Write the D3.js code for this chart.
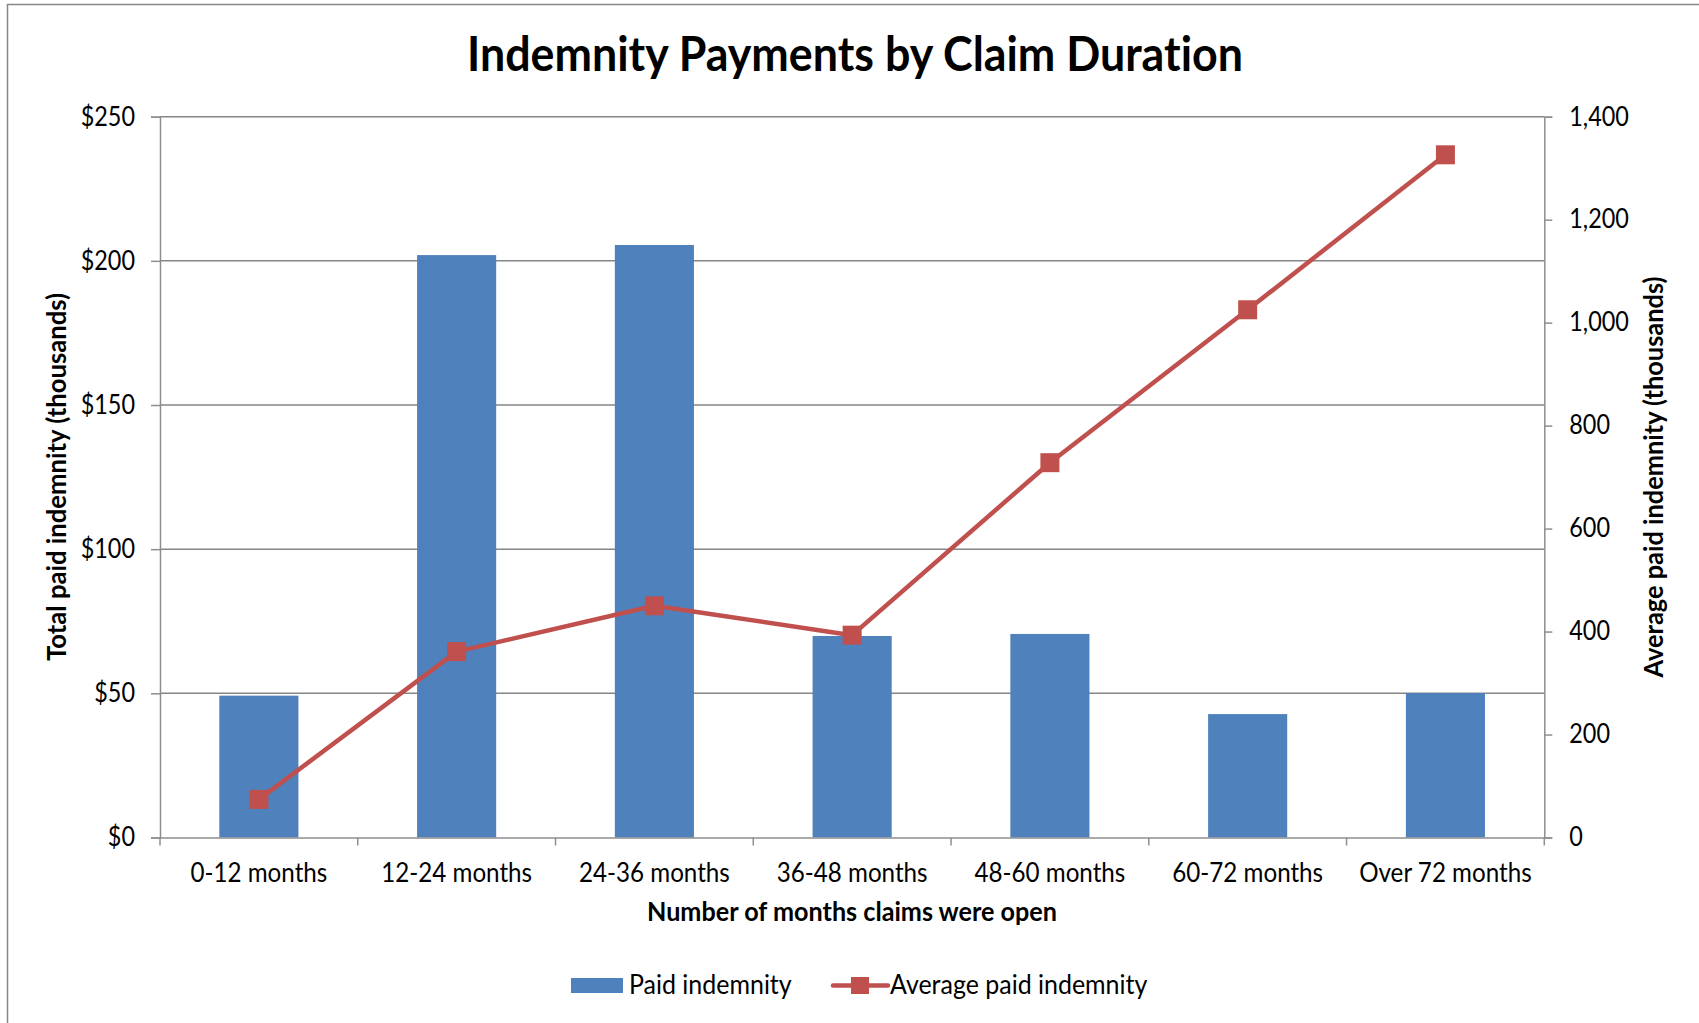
<!DOCTYPE html>
<html>
<head>
<meta charset="utf-8">
<script src="https://cdn.jsdelivr.net/npm/d3@7"></script>
<style>
  html, body { margin: 0; padding: 0; background: #fff; }
  svg { display: block; }
  text { font-family: Lato, "Open Sans", "Liberation Sans", sans-serif; fill: #000; font-variant-ligatures: none; font-feature-settings: "liga" 0, "clig" 0; }
</style>
</head>
<body>
<svg id="chart" width="1699" height="1023"></svg>
<script>
// ---- data ----
const categories = ["0-12 months", "12-24 months", "24-36 months", "36-48 months", "48-60 months", "60-72 months", "Over 72 months"];
const paidIndemnity = [49.2, 202, 205.5, 69.9, 70.6, 42.8, 50.1];          // $ thousands, left axis
const averagePaidIndemnity = [74, 361, 450, 393, 728, 1025, 1326];         // thousands, right axis
const leftTicks = [0, 50, 100, 150, 200, 250];
const rightTicks = [0, 200, 400, 600, 800, 1000, 1200, 1400];
const titleText = "Indemnity Payments by Claim Duration";
const xTitle = "Number of months claims were open";
const yLeftTitle = "Total paid indemnity (thousands)";
const yRightTitle = "Average paid indemnity (thousands)";
const seriesNames = ["Paid indemnity", "Average paid indemnity"];

// ---- layout ----
const svg = d3.select("#chart");
const plot = { left: 160, right: 1544.3, top: 116.7, bottom: 837.5 };
const barColor = "#4F81BD", lineColor = "#C0504D", gridColor = "#868686", axisColor = "#8e8e8e";

function condense(sel, k) {
  sel.each(function () {
    const w = this.getComputedTextLength();
    d3.select(this).attr("textLength", w * k).attr("lengthAdjust", "spacingAndGlyphs");
  });
}
function fitTo(sel, w) {
  sel.attr("textLength", w).attr("lengthAdjust", "spacingAndGlyphs");
}

// chart border
svg.append("rect").attr("x", 7.5).attr("y", 4.5).attr("width", 1730).attr("height", 1050)
  .attr("fill", "#fff").attr("stroke", "#868686").attr("stroke-width", 1.5);

const x = d3.scaleBand().domain(categories).range([plot.left, plot.right]).paddingInner(0.6).paddingOuter(0.3);
const xCenter = d => x(d) + x.bandwidth() / 2;
const y = d3.scaleLinear().domain([0, 250]).range([plot.bottom, plot.top]);
const y2 = d3.scaleLinear().domain([0, 1400]).range([plot.bottom, plot.top]);

// gridlines
svg.append("g").selectAll("line").data(leftTicks.filter(d => d > 0)).join("line")
  .attr("x1", plot.left).attr("x2", plot.right)
  .attr("y1", d => y(d)).attr("y2", d => y(d))
  .attr("stroke", gridColor).attr("stroke-width", 1.5);

// bars
svg.append("g").selectAll("rect").data(paidIndemnity).join("rect")
  .attr("x", (d, i) => x(categories[i]))
  .attr("width", x.bandwidth())
  .attr("y", d => y(d))
  .attr("height", d => y(0) - y(d))
  .attr("fill", barColor);

// left axis
const gl = svg.append("g").attr("transform", `translate(${plot.left},0)`)
  .call(d3.axisLeft(y).tickValues(leftTicks).tickSize(9).tickPadding(16).tickFormat(d => "$" + d));
gl.select(".domain").attr("stroke", axisColor).attr("stroke-width", 1.5);
gl.selectAll(".tick line").attr("stroke", axisColor).attr("stroke-width", 1.5);
gl.selectAll(".tick text").attr("font-size", 26).attr("font-family", null).attr("fill", "#000");
condense(gl.selectAll(".tick text"), 0.9);

// right axis
const gr = svg.append("g").attr("transform", `translate(${plot.right},0)`)
  .call(d3.axisRight(y2).tickValues(rightTicks).tickSize(8).tickPadding(17).tickFormat(d3.format(",")));
gr.select(".domain").attr("stroke", axisColor).attr("stroke-width", 1.5);
gr.selectAll(".tick line").attr("stroke", axisColor).attr("stroke-width", 1.5);
gr.selectAll(".tick text").attr("font-size", 26).attr("font-family", null).attr("fill", "#000");
condense(gr.selectAll(".tick text"), 0.9);

// bottom axis (labels) + boundary ticks
const gb = svg.append("g").attr("transform", `translate(0,${plot.bottom})`)
  .call(d3.axisBottom(x).tickSize(0).tickPadding(36));
gb.select(".domain").attr("stroke", axisColor).attr("stroke-width", 1.5);
gb.selectAll(".tick text").attr("font-size", 26).attr("font-family", null).attr("fill", "#000").attr("dy", "0.32em");
condense(gb.selectAll(".tick text"), 0.93);
const boundaries = d3.range(categories.length + 1).map(i => plot.left + i * (plot.right - plot.left) / categories.length);
svg.append("g").selectAll("line").data(boundaries).join("line")
  .attr("x1", d => d).attr("x2", d => d)
  .attr("y1", plot.bottom).attr("y2", plot.bottom + 8)
  .attr("stroke", axisColor).attr("stroke-width", 1.5);

// line series
const line = d3.line().x((d, i) => xCenter(categories[i])).y(d => y2(d));
svg.append("path").datum(averagePaidIndemnity)
  .attr("d", line).attr("fill", "none").attr("stroke", lineColor)
  .attr("stroke-width", 4.5).attr("stroke-linejoin", "round");
const ms = 19;
svg.append("g").selectAll("rect").data(averagePaidIndemnity).join("rect")
  .attr("x", (d, i) => xCenter(categories[i]) - ms / 2)
  .attr("y", d => y2(d) - ms / 2)
  .attr("width", ms).attr("height", ms)
  .attr("fill", lineColor);

// titles
const t = svg.append("text").attr("x", 855).attr("y", 71).attr("text-anchor", "middle")
  .attr("font-size", 48).attr("font-weight", "bold").text(titleText);
fitTo(t, 776);

const xt = svg.append("text").attr("x", 852).attr("y", 921).attr("text-anchor", "middle")
  .attr("font-size", 26).attr("font-weight", "bold").text(xTitle);
fitTo(xt, 410);

const ylt = svg.append("text").attr("transform", `translate(66,477) rotate(-90)`).attr("text-anchor", "middle")
  .attr("font-size", 26).attr("font-weight", "bold").text(yLeftTitle);
fitTo(ylt, 368);

const yrt = svg.append("text").attr("transform", `translate(1663,477) rotate(-90)`).attr("text-anchor", "middle")
  .attr("font-size", 26).attr("font-weight", "bold").text(yRightTitle);
fitTo(yrt, 401);

// legend
const lg = svg.append("g");
lg.append("rect").attr("x", 571).attr("y", 978).attr("width", 52).attr("height", 15).attr("fill", barColor);
const l1 = lg.append("text").attr("x", 629).attr("y", 994).attr("font-size", 26).text(seriesNames[0]);
condense(l1, 0.96);
lg.append("line").attr("x1", 833).attr("x2", 888).attr("y1", 985.5).attr("y2", 985.5)
  .attr("stroke", lineColor).attr("stroke-width", 4.5).attr("stroke-linecap", "round");
lg.append("rect").attr("x", 851).attr("y", 977).attr("width", 18).attr("height", 17).attr("fill", lineColor);
const l2 = lg.append("text").attr("x", 890).attr("y", 994).attr("font-size", 26).text(seriesNames[1]);
condense(l2, 0.96);
</script>
</body>
</html>
